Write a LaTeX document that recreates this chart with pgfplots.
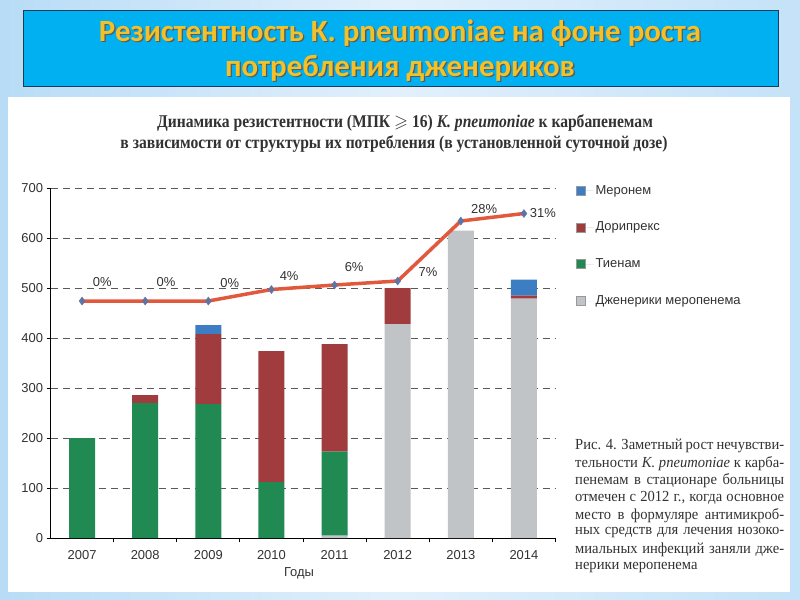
\documentclass[border=0pt]{standalone}
\usepackage{pgfplots}
\pgfplotsset{compat=1.18}
\usepackage{amssymb}
\usepackage{fontspec}
\setmainfont{Liberation Sans}
\newfontfamily\titlefont{Carlito}
\newfontfamily\cserif[FakeStretch=0.87]{Liberation Serif}
\newfontfamily\capserif[FakeStretch=0.95]{Liberation Serif}
\definecolor{bgL}{RGB}{184,220,246}
\definecolor{bgM}{RGB}{226,240,252}
\definecolor{bgR}{RGB}{196,226,248}
\definecolor{titlebox}{RGB}{0,176,240}
\definecolor{titleedge}{RGB}{30,60,90}
\definecolor{titleyellow}{RGB}{244,192,40}
\definecolor{cgrey}{RGB}{192,196,198}
\definecolor{cgreen}{RGB}{32,138,82}
\definecolor{cred}{RGB}{160,60,62}
\definecolor{cblue}{RGB}{60,125,195}
\definecolor{cline}{RGB}{226,88,60}
\definecolor{cmark}{RGB}{95,115,165}
\definecolor{ctext}{RGB}{50,50,50}
\begin{document}
\begin{tikzpicture}[x=1bp,y=1bp]
% background
\shade[left color=bgL, right color=bgR, middle color=bgM] (0,0) rectangle (800,-600);
\fill[white] (8,-97) rectangle (790,-592);
% title box
\draw[fill=titlebox, draw=titleedge, line width=0.8bp] (23,-10) rectangle (778,-86);
\node[font=\titlefont\bfseries\fontsize{31}{33}\selectfont, text=black!65] at (401.3,-34.3) {Резистентность K. pneumoniae на фоне роста};
\node[font=\titlefont\bfseries\fontsize{31}{33}\selectfont, text=black!65] at (401.3,-69.3) {потребления дженериков};
\node[font=\titlefont\bfseries\fontsize{31}{33}\selectfont, text=titleyellow] at (400,-33) {Резистентность K. pneumoniae на фоне роста};
\node[font=\titlefont\bfseries\fontsize{31}{33}\selectfont, text=titleyellow] at (400,-68) {потребления дженериков};
% chart title
\node[font=\cserif\bfseries\fontsize{18}{20}\selectfont, text=ctext] at (405,-123) {Динамика резистентности (МПК~$\geqslant$~16) \textit{K. pneumoniae} к карбапенемам};
\node[font=\cserif\bfseries\fontsize{18}{20}\selectfont, text=ctext] at (394,-144) {в зависимости от структуры их потребления (в установленной суточной дозе)};
% bars
\begin{axis}[
  at={(50.5bp,-538bp)}, anchor=south west, scale only axis,
  width=505bp, height=350bp,
  xmin=-0.5, xmax=7.5, ymin=0, ymax=700,
  ybar stacked, bar width=26bp,
  axis x line*=bottom, axis y line*=left,
  axis line style={-, black, line width=0.9bp},
  ytick={0,100,...,700},
  ymajorgrids,
  grid style={dashed, dash pattern=on 7bp off 5bp, draw=black!65, line width=0.8bp},
  tick align=outside,
  major tick length=4bp,
  tick style={black, line width=0.8bp},
  xtick={0.5,1.5,...,7.5},
  xticklabels={},
  extra x ticks={0,1,2,3,4,5,6,7},
  extra x tick labels={2007,2008,2009,2010,2011,2012,2013,2014},
  extra x tick style={major tick length=0pt, grid=none, tick label style={yshift=-9bp}},
  tick label style={font=\fontsize{13}{15}\selectfont, text=ctext},
  /pgf/number format/assume math mode=true,
  legend style={at={(1.035,1.02)}, anchor=north west, draw=none, fill=none,
    font=\fontsize{13}{15}\selectfont, text=ctext, row sep=22.5bp, cells={anchor=west}},
  reverse legend,
  legend image code/.code={\draw[#1, draw=black!40, line width=0.4bp] (0bp,-4.5bp) rectangle (9bp,4.5bp); \path (0bp,0bp) -- (17bp,0bp);},
]
\addplot[fill=cgrey, draw=none] coordinates {(0,0) (1,0) (2,0) (3,0) (4,5) (5,428) (6,615) (7,479)};
\addlegendentry{Дженерики меропенема}
\addplot[fill=cgreen, draw=none] coordinates {(0,200) (1,270) (2,268) (3,112) (4,168) (5,0) (6,0) (7,0)};
\addlegendentry{Тиенам}
\addplot[fill=cred, draw=none] coordinates {(0,0) (1,16) (2,140) (3,262) (4,215) (5,72) (6,0) (7,6)};
\addlegendentry{Дорипрекс}
\addplot[fill=cblue, draw=none] coordinates {(0,0) (1,0) (2,18) (3,0) (4,0) (5,0) (6,0) (7,32)};
\addlegendentry{Меронем}
\end{axis}
% line
\begin{axis}[
  at={(50.5bp,-538bp)}, anchor=south west, scale only axis,
  width=505bp, height=350bp,
  xmin=-0.5, xmax=7.5, ymin=0, ymax=700,
  hide axis, clip=false,
]
\addplot[color=cline, line width=3.5bp, mark=diamond*, mark size=4bp,
  mark options={fill=cmark, draw=cmark, line width=0.4bp, solid}]
  coordinates {(0,474) (1,474) (2,474) (3,497) (4,506) (5,514) (6,634) (7,649)};
\begin{scope}[every node/.style={font=\fontsize{13}{15}\selectfont, text=ctext}]
\node at (axis cs:0.32,512) {0\%};
\node at (axis cs:1.33,512) {0\%};
\node at (axis cs:2.34,510) {0\%};
\node at (axis cs:3.28,524) {4\%};
\node at (axis cs:4.31,542) {6\%};
\node at (axis cs:5.48,532) {7\%};
\node at (axis cs:6.37,658) {28\%};
\node at (axis cs:7.3,650) {31\%};
\end{scope}
\end{axis}
\node[font=\fontsize{13}{15}\selectfont, text=ctext] at (299,-573) {Годы};
% caption
\begin{scope}[every node/.style={anchor=west, inner sep=0pt, font=\capserif\fontsize{15.4}{17}\selectfont, text=ctext}]
\node at (575,-446) {\makebox[209bp][s]{Рис. 4. Заметный рост нечувстви-}};
\node at (575,-463.3) {\makebox[209bp][s]{тельности \textit{K. pneumoniae} к карба-}};
\node at (575,-480.6) {\makebox[209bp][s]{пенемам в стационаре больницы}};
\node at (575,-497.9) {\makebox[209bp][s]{отмечен с 2012 г., когда основное}};
\node at (575,-515.2) {\makebox[209bp][s]{место в формуляре антимикроб-}};
\node at (575,-532.5) {\makebox[209bp][s]{ных средств для лечения нозоко-}};
\node at (575,-549.8) {\makebox[209bp][s]{миальных инфекций заняли дже-}};
\node at (575,-567.1) {нерики меропенема};
\end{scope}
\end{tikzpicture}
\end{document}
